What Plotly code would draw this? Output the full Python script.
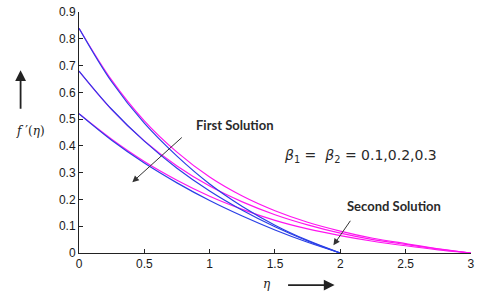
import plotly.graph_objects as go

eta_blue = [0, 0.25, 0.5, 0.75, 1.0, 1.25, 1.5, 1.75, 2.0]
eta_mag = [0, 0.25, 0.5, 0.75, 1.0, 1.25, 1.5, 1.75, 2.0, 2.25, 2.5, 2.75, 3.0]

blue_1 = [0.84, 0.640, 0.485, 0.362, 0.258, 0.174, 0.104, 0.047, 0.0]
blue_2 = [0.68, 0.537, 0.418, 0.317, 0.232, 0.160, 0.098, 0.045, 0.0]
blue_3 = [0.52, 0.421, 0.336, 0.262, 0.196, 0.138, 0.086, 0.040, 0.0]

mag_1 = [0.84, 0.646, 0.494, 0.377, 0.284, 0.213, 0.158, 0.115, 0.082, 0.055, 0.035, 0.016, 0.0]
mag_2 = [0.68, 0.536, 0.419, 0.325, 0.250, 0.191, 0.143, 0.105, 0.074, 0.050, 0.032, 0.015, 0.0]
mag_3 = [0.52, 0.425, 0.342, 0.272, 0.212, 0.163, 0.122, 0.090, 0.065, 0.044, 0.027, 0.012, 0.0]

x_ticks = [0, 0.5, 1, 1.5, 2, 2.5, 3]
x_tick_labels = ["0", "0.5", "1", "1.5", "2", "2.5", "3"]
y_ticks = [0, 0.1, 0.2, 0.3, 0.4, 0.5, 0.6, 0.7, 0.8, 0.9]
y_tick_labels = ["0", "0.1", "0.2", "0.3", "0.4", "0.5", "0.6", "0.7", "0.8", "0.9"]

BLUE = "#2a3fe6"
MAG = "#ff14f0"

fig = go.Figure()
for ys in (mag_1, mag_2, mag_3):
    fig.add_trace(go.Scatter(x=eta_mag, y=ys, mode="lines",
                             line=dict(color=MAG, width=1.2, shape="spline"),
                             showlegend=False, hoverinfo="skip"))
for ys in (blue_1, blue_2, blue_3):
    fig.add_trace(go.Scatter(x=eta_blue, y=ys, mode="lines",
                             line=dict(color=BLUE, width=1.2, shape="spline"),
                             showlegend=False, hoverinfo="skip"))

axis_common = dict(showgrid=False, zeroline=False, showline=True, linecolor="#222",
                   linewidth=1, ticks="inside", ticklen=4, tickcolor="#222",
                   ticklabeloverflow="allow",
                   tickfont=dict(family="Arial, Liberation Sans", size=12, color="#1a1a1a"))
fig.update_xaxes(range=[0, 3.0005], tickvals=x_ticks, ticktext=x_tick_labels, **axis_common)
fig.update_yaxes(range=[0, 0.9005], tickvals=y_ticks, ticktext=y_tick_labels, **axis_common)

ann_font = dict(family="Lato, Open Sans", size=13, color="#2a2a2a")
def label(x, y, text, font):
    fig.add_annotation(xref="paper", yref="paper", x=x, y=y, text=text, showarrow=False,
                       xanchor="center", yanchor="middle", font=font)

label(0.397, 0.532, "<b>First Solution</b>", ann_font)
label(0.803, 0.194, "<b>Second Solution</b>", ann_font)
label(0.717, 0.403,
      "<i>β</i><sub>1</sub> =  <i>β</i><sub>2</sub> = 0.1,0.2,0.3",
      dict(family="DejaVu Sans, Verdana", size=14, color="#2a2a2a"))
label(-0.124, 0.505, "<i>f</i> ′(<i>η</i>)",
      dict(family="DejaVu Serif, Liberation Serif", size=12, color="#222"))
label(0.48, -0.129, "<i>η</i>",
      dict(family="DejaVu Serif, Liberation Serif", size=12, color="#222"))

# arrows
def arrow(x, y, ax, ay, width, size, color):
    fig.add_annotation(xref="paper", yref="paper", x=x, y=y, ax=ax, ay=ay, text="",
                       showarrow=True, arrowhead=2, arrowsize=size, arrowwidth=width,
                       arrowcolor=color)

arrow(0.136, 0.294, 51, -46, 1, 1.3, "#333")
arrow(0.649, 0.032, 18, -26, 1, 1.3, "#333")
arrow(-0.149, 0.758, 0, 40, 1.8, 1.2, "#222")
arrow(0.652, -0.133, -48, 0, 1.8, 1.2, "#222")

fig.update_layout(width=480, height=295, margin=dict(l=79, r=7, t=5, b=42),
                  paper_bgcolor="white", plot_bgcolor="white")
fig.write_html("out.html", post_script="document.body.style.margin='0';",
               config={"displayModeBar": False})
